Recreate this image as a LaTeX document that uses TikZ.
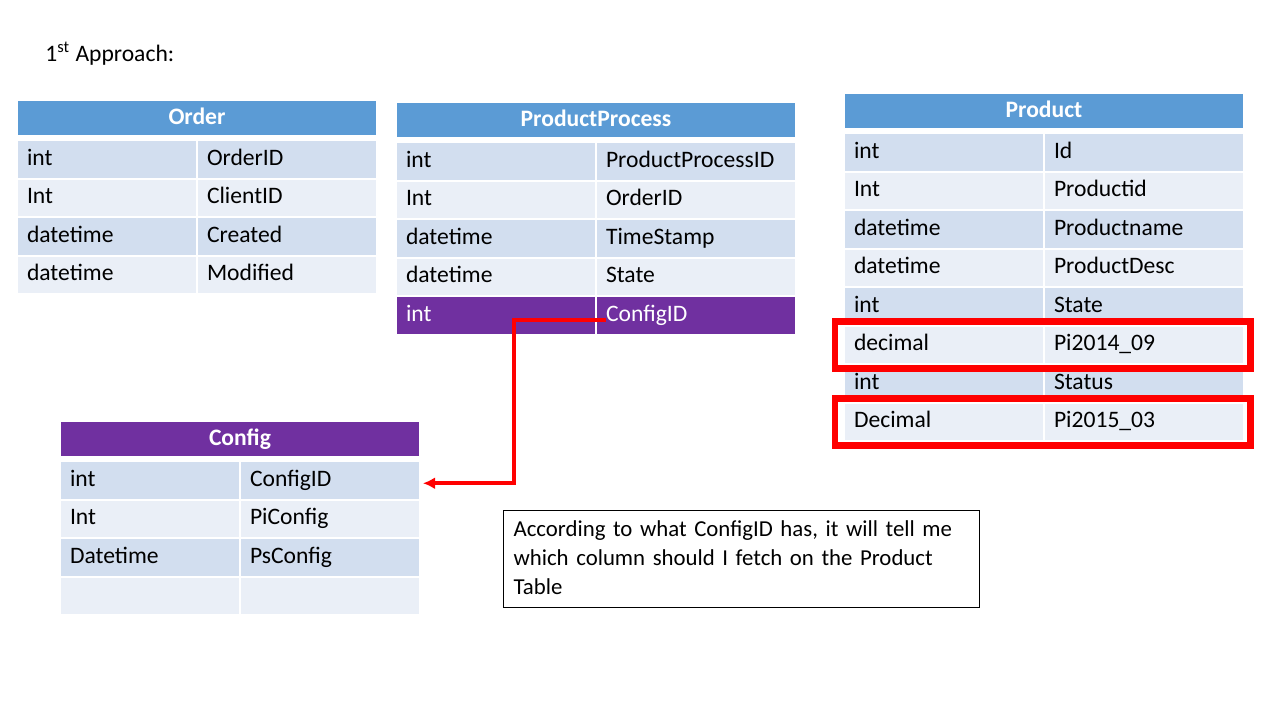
\documentclass[tikz,border=0pt]{standalone}
\usepackage{fontspec}
\setmainfont{Carlito}
\usepackage{tikz}
\usetikzlibrary{positioning,arrows.meta}
\definecolor{headblue}{RGB}{91,155,213}
\definecolor{rowdark}{RGB}{210,222,239}
\definecolor{rowlight}{RGB}{234,239,247}
\definecolor{cfgpurple}{RGB}{112,48,160}
\definecolor{markred}{RGB}{255,0,0}
\newcommand{\slidefont}{\fontsize{11.8}{15.8}\selectfont}
\tikzset{
  cell/.style={anchor=north west,draw=white,line width=1pt,inner xsep=5pt,inner ysep=0pt,
    minimum height=19.25pt,text height=8.5pt,text depth=2.5pt,align=left},
  headcell/.style={anchor=north west,draw=white,line width=1pt,inner sep=0pt,minimum height=18pt,
    text height=8.5pt,text depth=2.5pt,text=white,font=\slidefont\bfseries},
  hilite/.style={draw=markred,line width=3.3pt},
  link/.style={draw=markred,line width=2pt,-{Latex[length=6pt,width=6pt]}},
  notebox/.style={anchor=north west,draw=black,line width=0.6pt,inner xsep=5pt,inner ysep=5pt,
    text width=228pt,align=left,font=\fontsize{11.4}{14.4}\selectfont}
}
% #1 name, #2 x, #3 y, #4 column width (pt), #5 title, #6 header colour, #7 marked row, #8 rows
\newcommand{\dbtable}[8]{%
  \node[headcell,fill=#6,minimum width={2*#4pt}] (#1-head) at (#2,#3) {#5};
  \foreach \ty/\nm [count=\ri] in {#8}{
    \pgfmathsetmacro{\yy}{#3+40+(\ri-1)*38.5}
    \pgfmathsetmacro{\xx}{#2+2*#4}
    \pgfmathsetmacro{\tw}{#4-10}
    \ifnum\ri=#7 \def\cc{cfgpurple}\def\tc{white}\else
      \ifodd\ri \def\cc{rowdark}\else \def\cc{rowlight}\fi\def\tc{black}\fi
    \node[cell,fill=\cc,text=\tc,text width=\tw pt] (#1-\ri-1) at (#2,\yy) {\ty};
    \node[cell,fill=\cc,text=\tc,text width=\tw pt] (#1-\ri-2) at (\xx,\yy) {\nm};
  }}

\begin{document}
\begin{tikzpicture}[x=0.5pt,y=-0.5pt,font=\slidefont]
  \fill[white] (0,0) rectangle (1280,720);
  \node[anchor=base west,inner sep=0pt] (title) at (45,61) {1\textsuperscript{st} Approach:};
  % Tables
  \dbtable{order}{16}{99}{90}{Order}{headblue}{0}{int/OrderID, Int/ClientID, datetime/Created, datetime/Modified}
  \dbtable{pp}{395}{101}{100}{ProductProcess}{headblue}{5}{int/ProductProcessID, Int/OrderID, datetime/TimeStamp, datetime/State, int/ConfigID}
  \dbtable{prod}{843}{92}{100}{Product}{headblue}{0}{int/Id, Int/Productid, datetime/Productname, datetime/ProductDesc, int/State, decimal/Pi2014\_09, int/Status, Decimal/Pi2015\_03}
  \dbtable{cfg}{59}{420}{90}{Config}{cfgpurple}{0}{int/ConfigID, Int/PiConfig, Datetime/PsConfig, {}/{}}
  % Marked columns
  \draw[hilite] ([shift={(-8,-3)}]prod-6-1.north west) rectangle ([shift={(5.5,3.5)}]prod-6-2.south east);
  \draw[hilite] ([shift={(-8,-3)}]prod-8-1.north west) rectangle ([shift={(5.5,3.5)}]prod-8-2.south east);
  % ConfigID link
  \draw[link] ([shift={(11,5)}]pp-5-2.west) -- ++(-92,0) |- ([shift={(2,3)}]cfg-1-2.east);
  % Note
  \node[notebox] (note) at (503,510) {According to what ConfigID has, it will tell me\\which column should I fetch on the Product\\Table\rule[-1.7pt]{0pt}{0pt}};
\end{tikzpicture}
\end{document}
